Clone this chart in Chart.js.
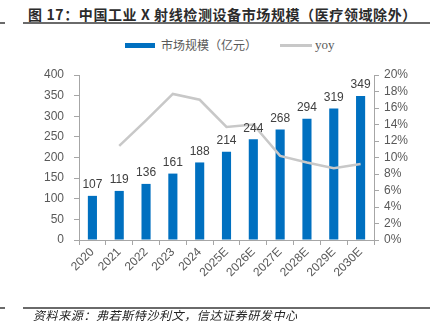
<!DOCTYPE html>
<html>
<head>
<meta charset="utf-8">
<script src="https://cdn.jsdelivr.net/npm/chart.js@4/dist/chart.umd.min.js"></script>
<style>
  html, body { margin: 0; padding: 0; background: #fff; }
  body { width: 433px; height: 335px; position: relative; overflow: hidden; }
  .title { position: absolute; left: 0; width: 445px; top: 5px; text-align: center;
    font: bold 14px "Noto Sans CJK SC", "Liberation Sans", sans-serif; color: #2b2b2b; line-height: 18px;
    letter-spacing: 0.6px; }
  .rule { position: absolute; height: 1px; background: #6a6a6a; }
  .legend { position: absolute; top: 36px; left: 0; width: 433px; height: 18px;
    font: 12px "Noto Sans CJK SC", sans-serif; color: #595959; }
  .legend span { position: absolute; top: 0; line-height: 18px; }
  .sw { position: absolute; }
  .source { position: absolute; left: 33px; top: 307px; font: italic 12px "Noto Sans CJK SC", sans-serif;
    color: #222; line-height: 16px; letter-spacing: 0.6px; }
  #chart { position: absolute; left: 0; top: 0; }
</style>
</head>
<body>
<div class="title">图 17：中国工业 X 射线检测设备市场规模（医疗领域除外）</div>
<div class="rule" style="left:0;width:5px;top:22px;height:1.5px"></div>
<div class="rule" style="left:23px;width:407px;top:22px;height:1.5px"></div>

<div class="legend">
  <div class="sw" style="left:125px;top:7px;width:30px;height:5px;background:#0070C0"></div>
  <span style="left:161px">市场规模（亿元）</span>
  <div class="sw" style="left:280px;top:8px;width:32px;height:2.5px;background:#c8c8c8"></div>
  <span style="left:315px;font-family:'Liberation Serif',serif;font-size:13px">yoy</span>
</div>

<canvas id="chart" width="433" height="335"></canvas>

<div class="rule" style="left:0;width:5px;top:307px;height:1.5px"></div>
<div class="rule" style="left:23px;width:407px;top:307px;height:1.5px"></div>
<div class="source">资料来源：弗若斯特沙利文，信达证券研发中心</div>

<script>
// Years on the category axis
const years = ['2020', '2021', '2022', '2023', '2024', '2025E', '2026E', '2027E', '2028E', '2029E', '2030E'];
// Market size, 100 million yuan
const marketSize = [107, 119, 136, 161, 188, 214, 244, 268, 294, 319, 349];
// Year-on-year growth, %
const yoy = [null, 11.4, 14.5, 17.7, 17.0, 13.7, 14.0, 10.2, 9.4, 8.7, 9.2];
// Axis ticks
const sizeTicks = [0, 50, 100, 150, 200, 250, 300, 350, 400];
const yoyTicks = [0, 2, 4, 6, 8, 10, 12, 14, 16, 18, 20];

const tickFont = { family: 'Liberation Sans, Arial, sans-serif', size: 12 };
const axisGray = '#a6a6a6';

// Writes each bar's value just above it
const barValueLabels = {
  id: 'barValueLabels',
  afterDatasetsDraw(chart) {
    const ctx = chart.ctx;
    const idx = chart.data.datasets.findIndex(d => d.type === 'bar');
    const meta = chart.getDatasetMeta(idx);
    ctx.save();
    ctx.font = '12px Liberation Sans, Arial, sans-serif';
    ctx.fillStyle = '#404040';
    ctx.textAlign = 'center';
    ctx.textBaseline = 'bottom';
    meta.data.forEach((bar, i) => {
      ctx.fillText(String(chart.data.datasets[idx].data[i]), bar.x, bar.y - 5);
    });
    ctx.restore();
  }
};

new Chart(document.getElementById('chart'), {
  type: 'bar',
  data: {
    labels: years,
    datasets: [
      {
        type: 'line',
        label: 'yoy',
        data: yoy,
        yAxisID: 'yRight',
        borderColor: '#c8c8c8',
        borderWidth: 2.5,
        pointRadius: 0,
        tension: 0,
        spanGaps: false,
        order: 0
      },
      {
        type: 'bar',
        label: '市场规模（亿元）',
        data: marketSize,
        yAxisID: 'yLeft',
        backgroundColor: '#0070C0',
        barPercentage: 0.34,
        categoryPercentage: 1,
        order: 1
      }
    ]
  },
  options: {
    responsive: false,
    animation: false,
    layout: { padding: { top: 75, left: 0, right: 0, bottom: 0 } },
    plugins: { legend: { display: false }, title: { display: false }, tooltip: { enabled: false } },
    scales: {
      x: {
        offset: true,
        grid: { display: true, drawOnChartArea: false, offset: true, tickLength: 5, color: axisGray },
        border: { color: axisGray, width: 1 },
        ticks: { font: tickFont, color: '#595959', maxRotation: 45, minRotation: 45, padding: 0, autoSkip: false },
        afterFit(scale) { scale.height = 95; }
      },
      yLeft: {
        position: 'left',
        min: 0, max: 400,
        afterBuildTicks(scale) { scale.ticks = sizeTicks.map(v => ({ value: v })); },
        grid: { drawOnChartArea: false, tickLength: 5, color: axisGray },
        border: { color: axisGray, width: 1 },
        ticks: { font: tickFont, color: '#595959', padding: 10, autoSkip: false },
        afterFit(scale) { scale.width = 79; }
      },
      yRight: {
        position: 'right',
        min: 0, max: 20,
        afterBuildTicks(scale) { scale.ticks = yoyTicks.map(v => ({ value: v })); },
        grid: { drawOnChartArea: false, tickLength: 5, color: axisGray },
        border: { color: axisGray, width: 1 },
        ticks: { font: tickFont, color: '#595959', padding: 5, autoSkip: false, callback: v => v + '%' },
        afterFit(scale) { scale.width = 59; }
      }
    }
  },
  plugins: [barValueLabels]
});
</script>
</body>
</html>
